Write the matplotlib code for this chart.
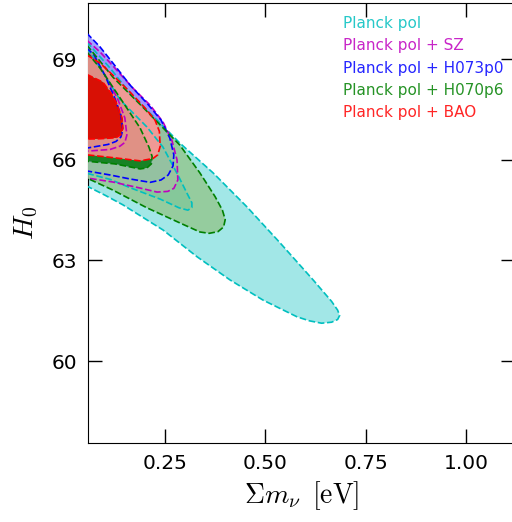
import numpy as np
import matplotlib
matplotlib.use("Agg")
import matplotlib.pyplot as plt
from matplotlib.path import Path
from matplotlib.patches import PathPatch
from matplotlib.colors import to_rgb

plt.rcParams['mathtext.fontset'] = 'cm'

# contour outlines: (sum m_nu [eV], H0)
cyan_95 = [(0.055, 69.52), (0.113, 68.74), (0.170, 67.88), (0.230, 67.19), (0.287, 66.50),
           (0.370, 65.61), (0.454, 64.60), (0.537, 63.52), (0.619, 62.42), (0.665, 61.78),
           (0.680, 61.52), (0.685, 61.36), (0.680, 61.24), (0.665, 61.16), (0.640, 61.13),
           (0.610, 61.20), (0.579, 61.32), (0.494, 61.82), (0.412, 62.42), (0.330, 63.11),
           (0.245, 63.91), (0.145, 64.66), (0.100, 64.95), (0.055, 65.22)]
cyan_68 = [(0.055, 69.34), (0.100, 68.53), (0.138, 67.79), (0.205, 66.98), (0.245, 66.38),
           (0.282, 65.55), (0.305, 65.00), (0.317, 64.72), (0.317, 64.58), (0.307, 64.50),
           (0.285, 64.57), (0.238, 64.83), (0.163, 65.17), (0.113, 65.42), (0.055, 65.60)]
magenta_95 = [(0.055, 69.57), (0.088, 69.22), (0.125, 68.74), (0.170, 68.14), (0.213, 67.63),
              (0.245, 67.13), (0.267, 66.59), (0.280, 66.00), (0.282, 65.40), (0.272, 65.15),
              (0.257, 65.06), (0.230, 65.04), (0.188, 65.16), (0.120, 65.34), (0.055, 65.46)]
magenta_68 = [(0.055, 69.22), (0.080, 68.92), (0.108, 68.38), (0.133, 67.79), (0.150, 67.25),
              (0.155, 66.74), (0.150, 66.52), (0.138, 66.41), (0.113, 66.31), (0.055, 66.26)]
blue_95 = [(0.055, 69.78), (0.088, 69.37), (0.120, 68.89), (0.163, 68.23), (0.205, 67.69),
           (0.240, 67.19), (0.262, 66.65), (0.272, 66.15), (0.270, 65.82), (0.258, 65.55),
           (0.240, 65.40), (0.213, 65.33), (0.163, 65.43), (0.113, 65.55), (0.055, 65.67)]
blue_68 = [(0.055, 69.34), (0.073, 69.13), (0.100, 68.53), (0.125, 67.84), (0.140, 67.34),
           (0.145, 66.89), (0.140, 66.68), (0.128, 66.55), (0.108, 66.46), (0.055, 66.35)]
green_95 = [(0.055, 69.43), (0.120, 68.47), (0.195, 67.57), (0.287, 66.44), (0.337, 65.61),
            (0.375, 64.90), (0.393, 64.50), (0.400, 64.22), (0.396, 64.00), (0.382, 63.86),
            (0.360, 63.81), (0.337, 63.85), (0.287, 64.12), (0.205, 64.57), (0.120, 65.10),
            (0.055, 65.46)]
green_68 = [(0.055, 69.22), (0.088, 68.74), (0.125, 68.08), (0.158, 67.49), (0.188, 66.95),
            (0.210, 66.38), (0.218, 66.10), (0.216, 65.88), (0.205, 65.76), (0.188, 65.73),
            (0.125, 65.88), (0.055, 65.96)]
red_95 = [(0.055, 69.13), (0.088, 68.89), (0.125, 68.47), (0.163, 68.02), (0.200, 67.55),
          (0.225, 67.19), (0.236, 66.85), (0.238, 66.40), (0.232, 66.15), (0.220, 66.04),
          (0.188, 65.97), (0.125, 66.06), (0.055, 66.15)]
red_68 = [(0.055, 68.55), (0.095, 68.32), (0.115, 68.00), (0.128, 67.72), (0.143, 67.25),
          (0.145, 66.95), (0.140, 66.75), (0.128, 66.66), (0.088, 66.63), (0.055, 66.62)]

labels = ["Planck pol", "Planck pol + SZ", "Planck pol + H073p0",
          "Planck pol + H070p6", "Planck pol + BAO"]
colors = ["c", "m", "b", "g", "r"]
outer = [cyan_95, magenta_95, blue_95, green_95, red_95]
inner = [cyan_68, magenta_68, blue_68, green_68, red_68]

xticks = [0.25, 0.50, 0.75, 1.00]
yticks = [60, 63, 66, 69]


def ring_path(out_pts, in_pts):
    # outer band with the inner region cut out, like contourf does
    o = np.array(out_pts + [out_pts[0]])
    i = np.array(in_pts[::-1] + [in_pts[-1]])
    verts = np.vstack([o, i])
    codes = ([Path.MOVETO] + [Path.LINETO] * (len(o) - 2) + [Path.CLOSEPOLY] +
             [Path.MOVETO] + [Path.LINETO] * (len(i) - 2) + [Path.CLOSEPOLY])
    return Path(verts, codes)


fig = plt.figure(figsize=(5.12, 5.22), dpi=100)
ax = fig.add_axes([0.1725, 0.1508, 0.8335, 0.843])

for k, col in enumerate(colors):
    base = np.array(to_rgb(col))
    light = 0.42 * base + 0.58
    ax.add_patch(PathPatch(ring_path(outer[k], inner[k]), facecolor=light,
                           edgecolor='none', alpha=0.87, zorder=1 + k))
    ax.fill([p[0] for p in inner[k]], [p[1] for p in inner[k]], color=base,
            alpha=0.85, lw=0, zorder=1 + k)

for k, col in enumerate(colors):
    for pts in (outer[k], inner[k]):
        xs = [p[0] for p in pts] + [pts[0][0]]
        ys = [p[1] for p in pts] + [pts[0][1]]
        ax.plot(xs, ys, color=col, lw=1.2, dashes=(4, 1.6), zorder=10,
                solid_joinstyle='round', dash_joinstyle='round')

for k, (lab, col) in enumerate(zip(labels, colors)):
    ax.text(0.597, 0.955 - k * 0.0511, lab, color=col, alpha=0.85, fontsize=11,
            transform=ax.transAxes, va='center', ha='left')

ax.set_xlim(0.059, 1.122)
ax.set_ylim(57.55, 70.67)
ax.set_xticks(xticks)
ax.set_xticklabels(["%.2f" % v for v in xticks])
ax.set_yticks(yticks)
ax.tick_params(direction='in', length=10, width=1, labelsize=14.5, pad=8,
               top=True, right=True)
ax.spines['right'].set_visible(False)
ax.set_xlabel(r'$\Sigma m_\nu\ \,[\mathrm{eV}]$', fontsize=20, labelpad=4)
ax.set_ylabel(r'$H_0$', fontsize=20, labelpad=8)

plt.savefig("out.png", dpi=100)
